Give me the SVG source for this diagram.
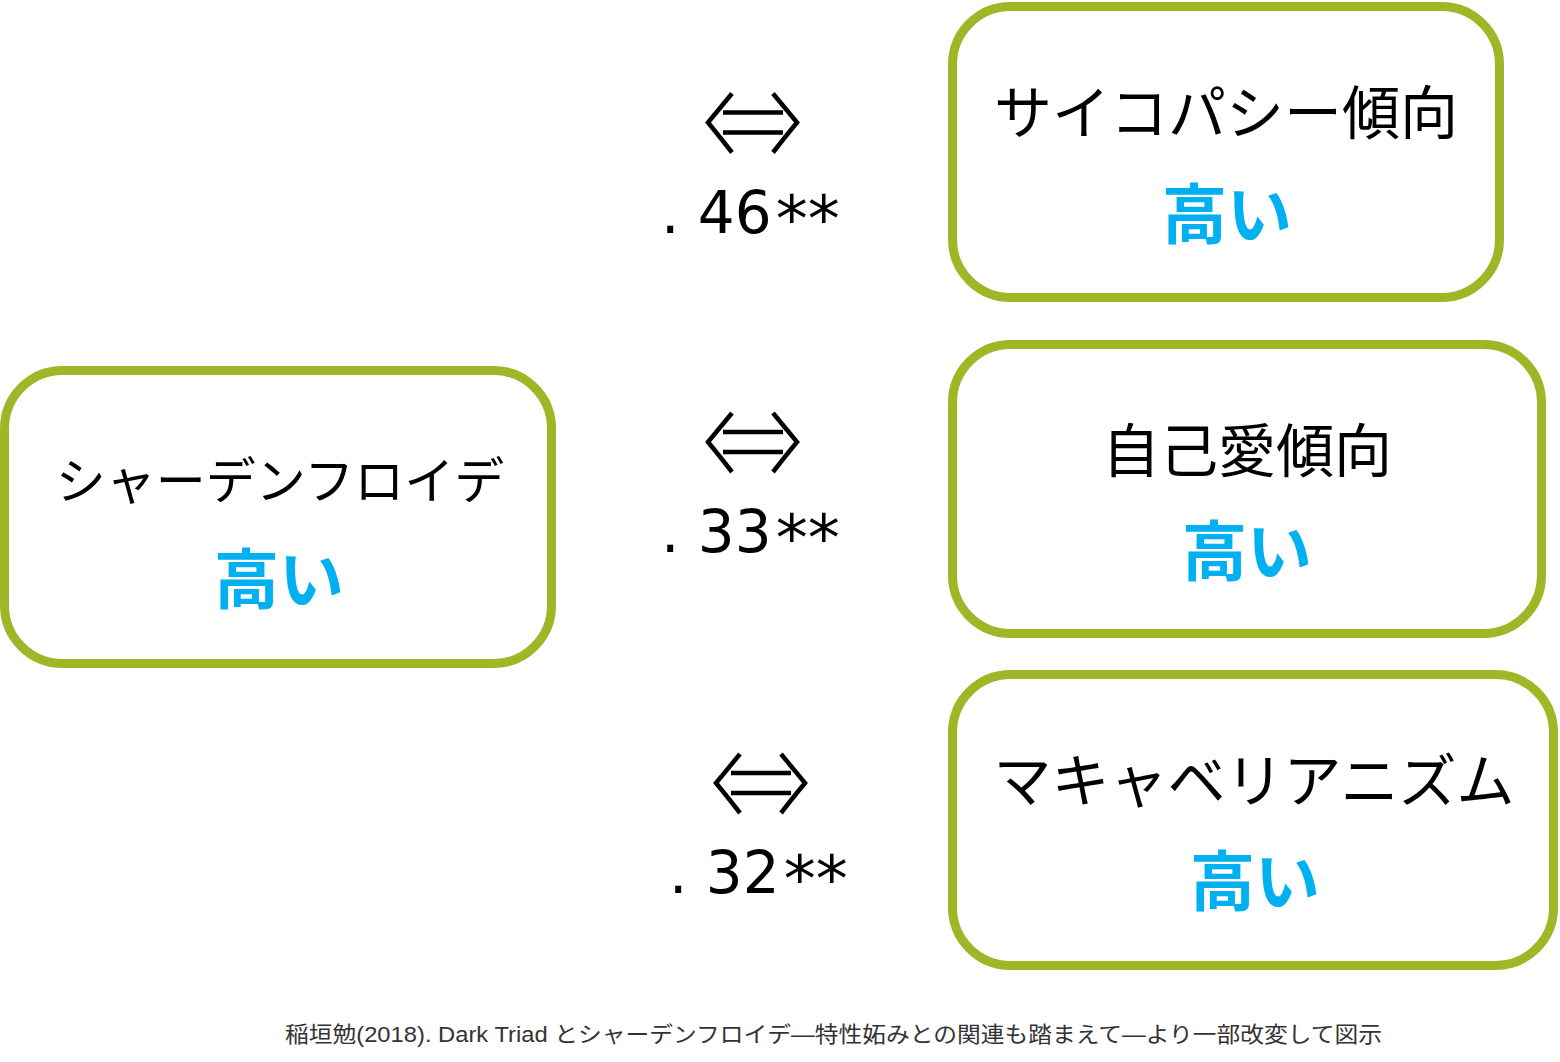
<svg xmlns="http://www.w3.org/2000/svg" xmlns:xlink="http://www.w3.org/1999/xlink" width="1560" height="1062" viewBox="0 0 1560 1062">
  <style>
    .box { fill: #ffffff; stroke: #9DB726; stroke-width: 9; }
    .lbl { font-family: "Noto Sans CJK JP", "Noto Sans", sans-serif; fill: #000000; text-anchor: middle; font-weight: 400; }
    .hi { font-family: "Noto Sans CJK JP", "Noto Sans", sans-serif; fill: #00B0F0; text-anchor: middle; font-weight: 700; font-size: 65px; }
    .num { font-family: "DejaVu Sans", "Liberation Sans", sans-serif; font-size: 58px; fill: #000000; }
    .ast { font-size: 64px; }
    .arrow { fill: none; stroke: #000000; stroke-width: 4.5; stroke-linecap: butt; stroke-linejoin: miter; }
    .foot { font-family: "Liberation Sans", "Noto Sans CJK JP", sans-serif; font-size: 22px; fill: #333333; }
  </style>
  <defs>
    <g id="dblarrow">
      <path class="arrow" d="M24,-29 Q10,-12 0,0 Q10,12 24,30"/>
      <path class="arrow" d="M65,-29 Q79,-12 89,0 Q79,12 65,30"/>
      <path class="arrow" d="M15,-10 H75 M15,10 H75"/>
    </g>
  </defs>

  <g id="node-schadenfreude">
    <rect class="box" x="4.5" y="370.5" width="547" height="293" rx="58"/>
    <text class="lbl" x="280" y="499" font-size="50">シャーデンフロイデ</text>
    <text class="hi" x="279" y="603">高い</text>
  </g>

  <g id="node-psychopathy">
    <rect class="box" x="952.5" y="6.5" width="547" height="291" rx="58"/>
    <text class="lbl" x="1226" y="134" font-size="58">サイコパシー傾向</text>
    <text class="hi" x="1227" y="238">高い</text>
  </g>

  <g id="node-narcissism">
    <rect class="box" x="952.5" y="344.5" width="589" height="289" rx="58"/>
    <text class="lbl" x="1247" y="472" font-size="58">自己愛傾向</text>
    <text class="hi" x="1247" y="575">高い</text>
  </g>

  <g id="node-machiavellianism">
    <rect class="box" x="952.5" y="674.5" width="601" height="291" rx="58"/>
    <text class="lbl" x="1254" y="802" font-size="58">マキャベリアニズム</text>
    <text class="hi" x="1255" y="905">高い</text>
  </g>

  <g id="connectors">
    <use xlink:href="#dblarrow" href="#dblarrow" transform="translate(708,122.5)"/>
    <use xlink:href="#dblarrow" href="#dblarrow" transform="translate(708,442)"/>
    <use xlink:href="#dblarrow" href="#dblarrow" transform="translate(716,783)"/>
    <text class="num" x="661" y="233">. 46<tspan class="ast" dx="4" dy="8">**</tspan></text>
    <text class="num" x="661" y="552">. 33<tspan class="ast" dx="4" dy="8">**</tspan></text>
    <text class="num" x="669" y="893">. 32<tspan class="ast" dx="4" dy="8">**</tspan></text>
  </g>

  <text class="foot" x="285" y="1042" textLength="1097" lengthAdjust="spacingAndGlyphs">稲垣勉(2018). Dark Triad とシャーデンフロイデ―特性妬みとの関連も踏まえて―より一部改変して図示</text>
</svg>
